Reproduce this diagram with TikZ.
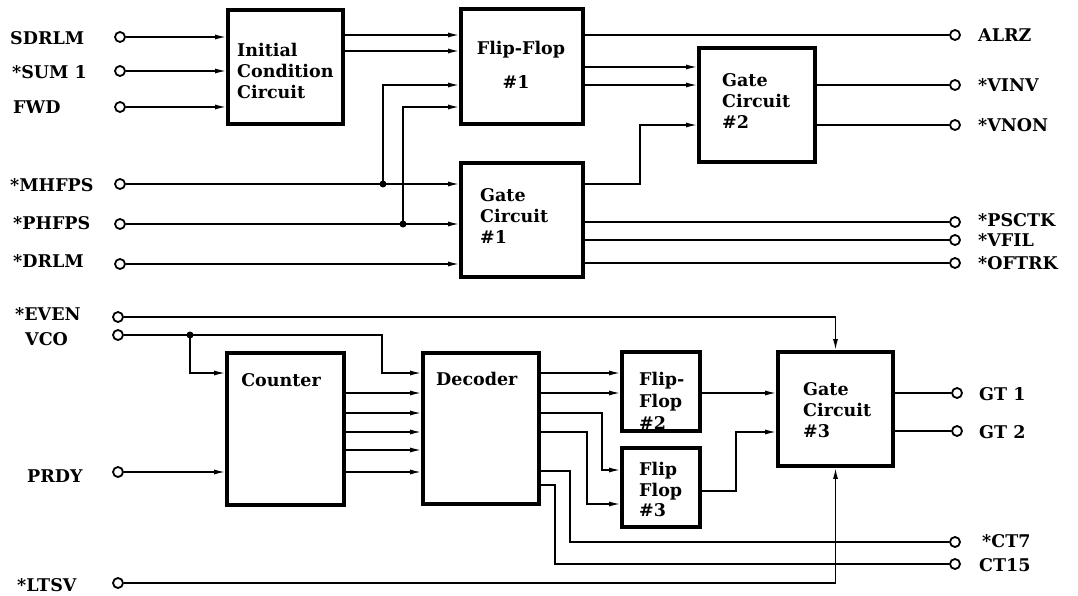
\documentclass[tikz,border=0pt]{standalone}
\usepackage{fontspec}
\setmainfont{DejaVu Serif}
\usetikzlibrary{arrows.meta,calc}
\begin{document}
\begin{tikzpicture}[x=1pt,y=-1pt,
  blk/.style={draw,line width=3.8pt,inner sep=0pt},
  term/.style={circle,draw,line width=1.8pt,minimum size=10pt,inner sep=0pt,fill=white},
  wire/.style={line width=1.4pt},
  aw/.style={line width=1.4pt,-{Latex[length=11pt,width=5pt]}},
  lbl/.style={font=\bfseries\fontsize{17.5}{17.5}\selectfont,anchor=west,inner sep=0pt,text height=12pt,text depth=0pt},
  btxt/.style={font=\bfseries\fontsize{17.5}{21}\selectfont,align=left,inner sep=0pt},
  jdot/.style={circle,fill,inner sep=0pt,minimum size=7pt}
]
\useasboundingbox (0,0) rectangle (1078,596);
% ---------- box texts ----------
\node[btxt,anchor=west] (ticc) at (237,71) {Initial\\Condition\\Circuit};
\node[btxt] (tff1a) at (521,50) {Flip-Flop};
\node[btxt] (tff1b) at (516,82) {\#1};
\node[btxt,anchor=west] (tgc2) at (722,101) {Gate\\Circuit\\\#2};
\node[btxt,anchor=west] (tgc1) at (480,216.5) {Gate\\Circuit\\\#1};
\node[btxt] (tcnt) at (281,380) {Counter};
\node[btxt,anchor=west] (tdec) at (436,379) {Decoder};
\node[btxt,anchor=west,font=\bfseries\fontsize{17.5}{22}\selectfont] (tff2) at (639,401) {Flip-\\Flop\\\#2};
\node[btxt,anchor=west,font=\bfseries\fontsize{17.5}{20.5}\selectfont] (tff3) at (639,489.5) {Flip\\Flop\\\#3};
\node[btxt,anchor=west] (tgc3) at (803,410) {Gate\\Circuit\\\#3};
% ---------- boxes ----------
\node[blk,minimum width=115pt,minimum height=114pt] (icc) at (285.5,67) {};
\node[blk,minimum width=122pt,minimum height=115pt] (ff1) at (522,66.5) {};
\node[blk,minimum width=116pt,minimum height=114pt] (gc2) at (757,105) {};
\node[blk,minimum width=122pt,minimum height=114pt] (gc1) at (522,220) {};
\node[blk,minimum width=117pt,minimum height=152pt] (cnt) at (285.5,429) {};
\node[blk,minimum width=116pt,minimum height=151pt] (dec) at (481,428.5) {};
\node[blk,minimum width=78pt,minimum height=79pt] (ff2) at (661,391.5) {};
\node[blk,minimum width=78pt,minimum height=79pt] (ff3) at (661,487.5) {};
\node[blk,minimum width=115pt,minimum height=114pt] (gc3) at (835.5,409) {};
% ---------- terminals ----------
\node[term] (tSDRLM) at (120,37) {};
\node[term] (tSUM) at (120,71) {};
\node[term] (tFWD) at (120,107) {};
\node[term] (tMHFPS) at (120,184) {};
\node[term] (tPHFPS) at (120,224) {};
\node[term] (tDRLM) at (120,264) {};
\node[term] (tEVEN) at (118,317) {};
\node[term] (tVCO) at (118,335) {};
\node[term] (tPRDY) at (118,472) {};
\node[term] (tLTSV) at (118,583) {};
\node[term] (tALRZ) at (955,35) {};
\node[term] (tVINV) at (955,85) {};
\node[term] (tVNON) at (955,125) {};
\node[term] (tPSCTK) at (955,222) {};
\node[term] (tVFIL) at (955,240) {};
\node[term] (tOFTRK) at (955,263) {};
\node[term] (tGT1) at (957,393) {};
\node[term] (tGT2) at (957,431) {};
\node[term] (tCT7) at (955,542) {};
\node[term] (tCT15) at (955,564) {};
% ---------- labels ----------
\node[lbl] (lSDRLM) at (10,39) {SDRLM};
\node[lbl] (lSUM) at (12,73) {*SUM 1};
\node[lbl] (lFWD) at (13,108) {FWD};
\node[lbl] (lMHFPS) at (10,186) {*MHFPS};
\node[lbl] (lPHFPS) at (13,223) {*PHFPS};
\node[lbl] (lDRLM) at (13,261) {*DRLM};
\node[lbl] (lEVEN) at (15,314) {*EVEN};
\node[lbl] (lVCO) at (25,339) {VCO};
\node[lbl] (lPRDY) at (27,476) {PRDY};
\node[lbl] (lLTSV) at (17,585) {*LTSV};
\node[lbl] (lALRZ) at (978,36) {ALRZ};
\node[lbl] (lVINV) at (978,86) {*VINV};
\node[lbl] (lVNON) at (978,126) {*VNON};
\node[lbl] (lPSCTK) at (978,220) {*PSCTK};
\node[lbl] (lVFIL) at (978,240) {*VFIL};
\node[lbl] (lOFTRK) at (978,263) {*OFTRK};
\node[lbl] (lGT1) at (979,394) {GT 1};
\node[lbl] (lGT2) at (979,432) {GT 2};
\node[lbl] (lCT7) at (982,541) {*CT7};
\node[lbl] (lCT15) at (979,565) {CT15};
% ---------- junctions ----------
\node[jdot] (j1) at (383,184) {};
\node[jdot] (j2) at (403,224) {};
\node[jdot] (j3) at (190,335) {};
% ---------- top wires ----------
\draw[aw] (tSDRLM) -- (tSDRLM -| icc.west);
\draw[aw] (tSUM) -- (tSUM -| icc.west);
\draw[aw] (tFWD) -- (tFWD -| icc.west);
\draw[aw] (icc.east |- 0,35) -- (ff1.west |- 0,35);
\draw[aw] (icc.east |- 0,51) -- (ff1.west |- 0,51);
\draw[aw] (tMHFPS) -- (tMHFPS -| gc1.west);
\draw[aw] (j1.center) |- (ff1.west |- 0,85);
\draw[aw] (tPHFPS) -- (tPHFPS -| gc1.west);
\draw[aw] (j2.center) |- (ff1.west |- 0,107);
\draw[aw] (tDRLM) -- (tDRLM -| gc1.west);
\draw[wire] (ff1.east |- tALRZ) -- (tALRZ);
\draw[aw] (ff1.east |- 0,67) -- (gc2.west |- 0,67);
\draw[aw] (ff1.east |- 0,85) -- (gc2.west |- 0,85);
\draw[aw] (gc1.east |- 0,184) -- (640,184) |- (gc2.west |- 0,125);
\draw[wire] (gc2.east |- tVINV) -- (tVINV);
\draw[wire] (gc2.east |- tVNON) -- (tVNON);
\draw[wire] (gc1.east |- tPSCTK) -- (tPSCTK);
\draw[wire] (gc1.east |- tVFIL) -- (tVFIL);
\draw[wire] (gc1.east |- tOFTRK) -- (tOFTRK);
% ---------- bottom wires ----------
\draw[aw] (tEVEN) -| (gc3.north);
\draw[wire] (tVCO) -- (j3.center);
\draw[aw] (j3.center) -- (382,335) |- (dec.west |- 0,373);
\draw[aw] (j3.center) |- (cnt.west |- 0,373);
\foreach \yy in {393,413,432,450,472}{
  \draw[aw] (cnt.east |- 0,\yy) -- (dec.west |- 0,\yy);
}
\draw[aw] (tPRDY) -- (tPRDY -| cnt.west);
\draw[aw] (dec.east |- 0,373) -- (ff2.west |- 0,373);
\draw[aw] (dec.east |- 0,393) -- (ff2.west |- 0,393);
\draw[aw] (dec.east |- 0,413) -- (602,413) |- (ff3.west |- 0,470);
\draw[aw] (dec.east |- 0,432) -- (587,432) |- (ff3.west |- 0,504);
\draw[wire] (dec.east |- 0,471) -- (570,471) |- (tCT7);
\draw[wire] (dec.east |- 0,485) -- (555,485) |- (tCT15);
\draw[aw] (ff2.east |- 0,393) -- (gc3.west |- 0,393);
\draw[aw] (ff3.east |- 0,491) -- (736,491) |- (gc3.west |- 0,432);
\draw[wire] (gc3.east |- tGT1) -- (tGT1);
\draw[wire] (gc3.east |- tGT2) -- (tGT2);
\draw[aw] (tLTSV) -| (gc3.south);
\end{tikzpicture}
\end{document}
